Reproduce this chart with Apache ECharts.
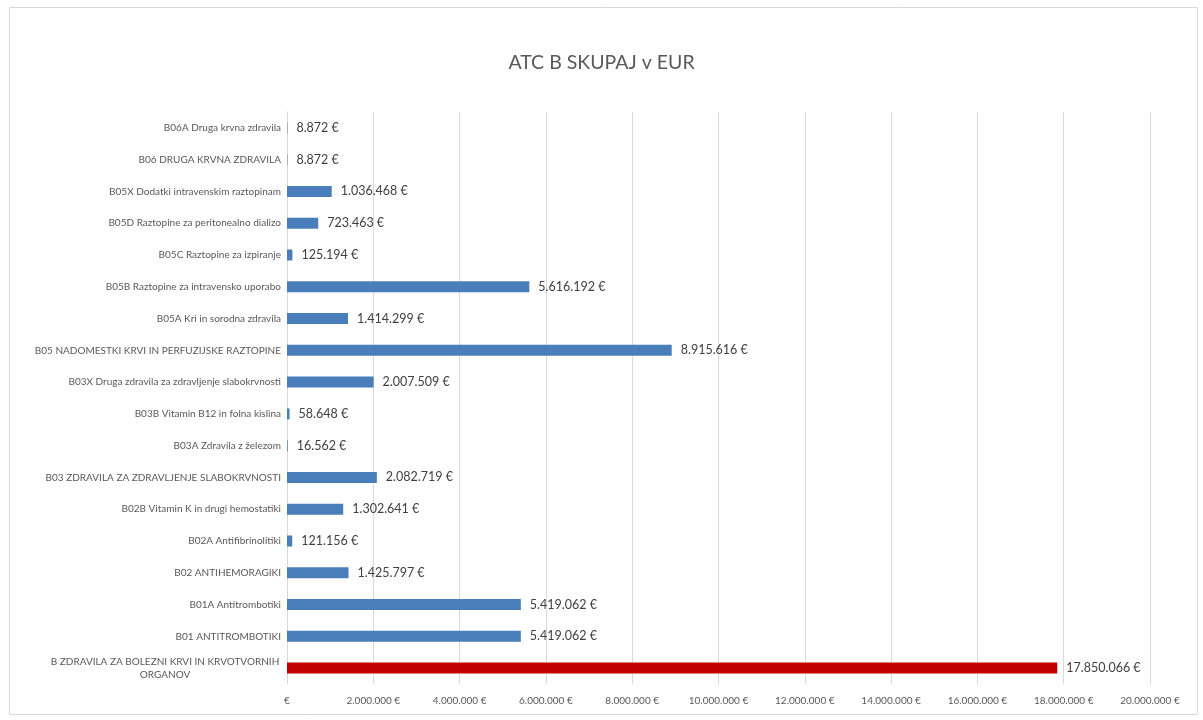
<!DOCTYPE html>
<html>
<head>
<meta charset="utf-8">
<script src="https://cdn.jsdelivr.net/npm/echarts@6/dist/echarts.min.js"></script>
<style>
html,body{margin:0;padding:0;background:#fff;}
#c{width:1203px;height:720px;}
</style>
</head>
<body>
<div id="c"></div>
<script>
// categories, bottom to top
const categories = [
  "B ZDRAVILA ZA BOLEZNI KRVI IN KRVOTVORNIH\nORGANOV",
  "B01 ANTITROMBOTIKI",
  "B01A Antitrombotiki",
  "B02 ANTIHEMORAGIKI",
  "B02A Antifibrinolitiki",
  "B02B Vitamin K in drugi hemostatiki",
  "B03 ZDRAVILA ZA ZDRAVLJENJE SLABOKRVNOSTI",
  "B03A Zdravila z železom",
  "B03B Vitamin B12 in folna kislina",
  "B03X Druga zdravila za zdravljenje slabokrvnosti",
  "B05 NADOMESTKI KRVI IN PERFUZIJSKE RAZTOPINE",
  "B05A Kri in sorodna zdravila",
  "B05B Raztopine za intravensko uporabo",
  "B05C Raztopine za izpiranje",
  "B05D Raztopine za peritonealno dializo",
  "B05X Dodatki intravenskim raztopinam",
  "B06 DRUGA KRVNA ZDRAVILA",
  "B06A Druga krvna zdravila"
];
const values = [
  17850066, 5419062, 5419062, 1425797, 121156, 1302641, 2082719, 16562, 58648,
  2007509, 8915616, 1414299, 5616192, 125194, 723463, 1036468, 8872, 8872
];
const highlighted = ["B ZDRAVILA ZA BOLEZNI KRVI IN KRVOTVORNIH\nORGANOV"];
const axisTicks = [0, 2000000, 4000000, 6000000, 8000000, 10000000, 12000000, 14000000, 16000000, 18000000, 20000000];
const title = "ATC B SKUPAJ v EUR";

function fmt(v){
  return String(Math.round(v)).replace(/\B(?=(\d{3})+(?!\d))/g, '.');
}

const chart = echarts.init(document.getElementById('c'));
const FONT = 'Lato, "Liberation Sans", sans-serif';
chart.setOption({
  backgroundColor: '#fff',
  textStyle: {fontFamily: FONT},
  title: {
    text: title, left: 'center', top: 48,
    textStyle: {fontFamily: FONT, fontSize: 19.5, fontWeight: 'normal', color: '#595959'}
  },
  graphic: [{
    type: 'rect', left: 7, top: 5, shape: {width: 1188, height: 707},
    style: {fill: 'none', stroke: '#d9d9d9', lineWidth: 1}, silent: true
  }],
  grid: {left: 287, right: 53, top: 112, bottom: 36, containLabel: false},
  xAxis: {
    type: 'value', min: axisTicks[0], max: axisTicks[axisTicks.length-1], interval: 2000000,
    axisLine: {show: false}, axisTick: {show: false},
    splitLine: {lineStyle: {color: '#d9d9d9', width: 1}},
    axisLabel: {
      color: '#595959', fontSize: 10, margin: 12,
      formatter: v => v === 0 ? '€' : fmt(v) + ' €'
    }
  },
  yAxis: {
    type: 'category', data: categories,
    axisLine: {show: true, lineStyle: {color: '#d9d9d9'}},
    axisTick: {show: false},
    axisLabel: {
      color: '#595959', fontSize: 10, margin: 6, lineHeight: 13,
      formatter: v => v.indexOf('\n') >= 0
        ? v.split('\n').map(s => '{w|' + s + '}').join('\n')
        : v,
      rich: {w: {width: 232, align: 'center', fontSize: 10, color: '#595959', lineHeight: 13}}
    }
  },
  series: [{
    type: 'bar',
    barWidth: 11,
    data: values.map((v, i) => ({
      value: v,
      itemStyle: {color: highlighted.includes(categories[i]) ? '#c00000' : '#4a7ebb'}
    })),
    label: {
      show: true, position: 'right', distance: 9,
      color: '#404040', fontSize: 12.5, fontFamily: FONT,
      formatter: p => fmt(p.value) + ' €'
    }
  }]
});
</script>
</body>
</html>
